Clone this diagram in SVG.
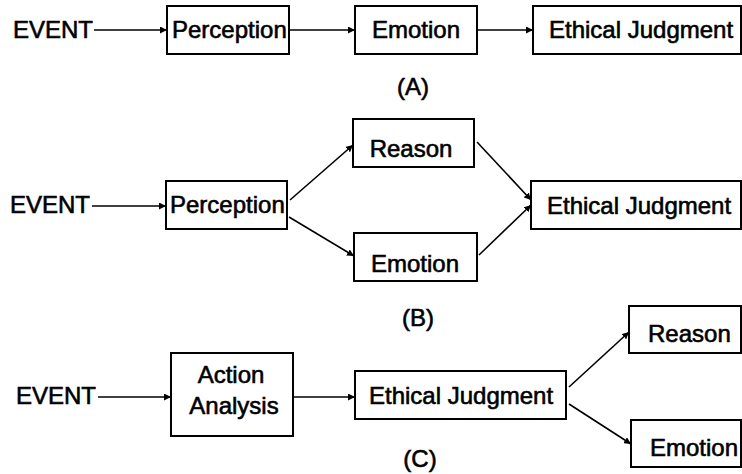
<svg xmlns="http://www.w3.org/2000/svg" width="742" height="474" viewBox="0 0 742 474">
<style>
  .box { fill: #fff; stroke: #000; stroke-width: 2; }
  .t { font-family: "Liberation Sans", Arial, sans-serif; font-size: 24px; fill: #000; stroke: #000; stroke-width: 0.6; }
  .c { stroke: #000; stroke-width: 1.6; fill: none; marker-end: url(#ah); }
</style>
<defs>
  <marker id="ah" markerUnits="userSpaceOnUse" markerWidth="8" markerHeight="7" refX="7" refY="3.5" orient="auto">
    <path d="M0,0 L7,3.5 L0,7 z" fill="#000"/>
  </marker>
</defs>
<rect width="742" height="474" fill="#fff"/>

<!-- Row A -->
<g id="a-event"><text class="t" x="13" y="38">EVENT</text></g>
<g id="a-perception"><rect class="box" x="167" y="6" width="122" height="48"/><text class="t" x="172" y="38">Perception</text></g>
<g id="a-emotion"><rect class="box" x="355" y="6" width="122" height="48"/><text class="t" x="416" y="38" text-anchor="middle">Emotion</text></g>
<g id="a-judgment"><rect class="box" x="533" y="6" width="208" height="48"/><text class="t" x="549" y="38">Ethical Judgment</text></g>
<g id="label-a"><text class="t" x="413" y="95" text-anchor="middle">(A)</text></g>

<!-- Row B -->
<g id="b-event"><text class="t" x="10" y="213">EVENT</text></g>
<g id="b-perception"><rect class="box" x="166" y="181" width="121" height="48"/><text class="t" x="170" y="213">Perception</text></g>
<g id="b-reason"><rect class="box" x="353" y="119" width="121" height="48"/><text class="t" x="411" y="157" text-anchor="middle">Reason</text></g>
<g id="b-emotion"><rect class="box" x="354" y="233" width="123" height="48"/><text class="t" x="415" y="272" text-anchor="middle">Emotion</text></g>
<g id="b-judgment"><rect class="box" x="531" y="181" width="210" height="48"/><text class="t" x="547" y="214">Ethical Judgment</text></g>
<g id="label-b"><text class="t" x="418" y="326" text-anchor="middle">(B)</text></g>

<!-- Row C -->
<g id="c-event"><text class="t" x="16" y="404">EVENT</text></g>
<g id="c-action"><rect class="box" x="171" y="353" width="122" height="83"/><text class="t" x="231" y="383" text-anchor="middle">Action</text><text class="t" x="234" y="414" text-anchor="middle">Analysis</text></g>
<g id="c-judgment"><rect class="box" x="355" y="371" width="211" height="48"/><text class="t" x="369" y="404">Ethical Judgment</text></g>
<g id="c-reason"><rect class="box" x="629" y="306" width="112" height="47"/><text class="t" x="648" y="342">Reason</text></g>
<g id="c-emotion"><rect class="box" x="631" y="420" width="110" height="47"/><text class="t" x="650" y="456">Emotion</text></g>
<g id="label-c"><text class="t" x="420" y="467" text-anchor="middle">(C)</text></g>

<g id="connectors">
  <line class="c" x1="94" y1="30" x2="167" y2="30"/>
  <line class="c" x1="289" y1="30" x2="355" y2="30"/>
  <line class="c" x1="477" y1="30" x2="533" y2="30"/>

  <line class="c" x1="92" y1="206" x2="166" y2="206"/>
  <line class="c" x1="290" y1="200" x2="353" y2="145"/>
  <line class="c" x1="289" y1="217" x2="354" y2="256"/>
  <line class="c" x1="477" y1="142" x2="531" y2="200"/>
  <line class="c" x1="479" y1="255" x2="531" y2="205"/>

  <line class="c" x1="98" y1="397" x2="171" y2="397"/>
  <line class="c" x1="293" y1="397" x2="355" y2="397"/>
  <line class="c" x1="569" y1="387" x2="629" y2="332"/>
  <line class="c" x1="569" y1="404" x2="631" y2="444"/>
</g>
</svg>
